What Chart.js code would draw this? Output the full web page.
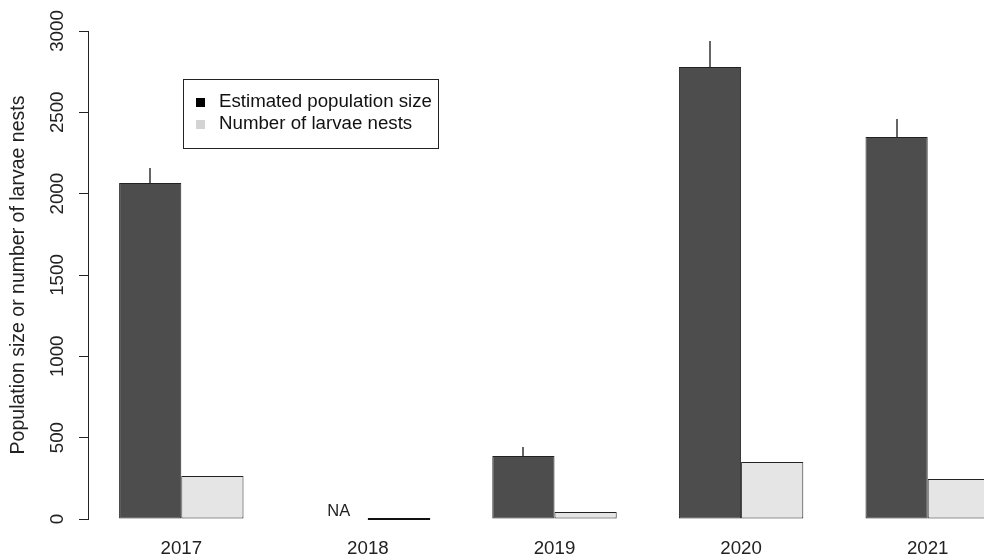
<!DOCTYPE html>
<html>
<head>
<meta charset="utf-8">
<script src="https://cdn.jsdelivr.net/npm/chart.js@4/dist/chart.umd.min.js"></script>
<style>
  html, body { margin: 0; padding: 0; background: #fff; overflow: hidden; }
  #wrap { width: 1021px; height: 558px; }
</style>
</head>
<body>
<div id="wrap"><canvas id="chart"></canvas></div>
<script>
// survey years and the two series (null = not estimated)
const years = ['2017', '2018', '2019', '2020', '2021'];
const popSize = [2066, null, 387, 2779, 2348];
const popUpper = [2158, null, 443, 2938, 2459];
const larvaeNests = [264, 0, 43, 350, 246];
const yTicks = [0, 500, 1000, 1500, 2000, 2500, 3000];

const FONT = 'Liberation Sans, Arial, sans-serif';
const INK = '#222';

// upper whiskers on the population bars
const whiskers = {
    id: 'whiskers',
    afterDatasetsDraw(chart) {
        const ctx = chart.ctx;
        const y = chart.scales.y;
        const meta = chart.getDatasetMeta(0);
        ctx.save();
        ctx.strokeStyle = '#333';
        ctx.lineWidth = 1.5;
        popUpper.forEach((u, i) => {
            if (u == null || popSize[i] == null) return;
            const x = Math.round(meta.data[i].x);
            ctx.beginPath();
            ctx.moveTo(x, y.getPixelForValue(popSize[i]));
            ctx.lineTo(x, y.getPixelForValue(u));
            ctx.stroke();
        });
        ctx.restore();
    }
};

// NA for missing bars, flat line for zero-height bars
const emptyBars = {
    id: 'emptyBars',
    afterDatasetsDraw(chart) {
        const ctx = chart.ctx;
        const y0 = chart.scales.y.getPixelForValue(0);
        ctx.save();
        chart.data.datasets.forEach((ds, di) => {
            const meta = chart.getDatasetMeta(di);
            ds.data.forEach((v, i) => {
                const el = meta.data[i];
                if (v === null) {
                    ctx.fillStyle = INK;
                    ctx.font = '16.5px ' + FONT;
                    ctx.textAlign = 'center';
                    ctx.textBaseline = 'middle';
                    ctx.fillText('NA', el.x + 2, y0 - 8);
                } else if (v === 0) {
                    ctx.strokeStyle = '#111';
                    ctx.lineWidth = 2;
                    ctx.beginPath();
                    ctx.moveTo(el.x - el.width / 2, y0);
                    ctx.lineTo(el.x + el.width / 2, y0);
                    ctx.stroke();
                }
            });
        });
        ctx.restore();
    }
};

// boxed legend inside the plot
const boxLegend = {
    id: 'boxLegend',
    afterDraw(chart, args, opts) {
        const ctx = chart.ctx;
        const b = opts.box;
        ctx.save();
        ctx.strokeStyle = INK;
        ctx.lineWidth = 1;
        ctx.strokeRect(b.x + 0.5, b.y + 0.5, b.w, b.h);
        ctx.font = opts.fontSize + 'px ' + FONT;
        ctx.textBaseline = 'middle';
        ctx.textAlign = 'left';
        chart.data.datasets.forEach((ds, i) => {
            const yy = opts.rows[i];
            ctx.fillStyle = opts.marks[i];
            ctx.fillRect(opts.markX - 4, yy - 4, 9, 9);
            ctx.fillStyle = '#111';
            ctx.fillText(ds.label, opts.textX, yy);
        });
        ctx.restore();
    }
};

new Chart(document.getElementById('chart'), {
    type: 'bar',
    data: {
        labels: years,
        datasets: [
            {
                label: 'Estimated population size',
                data: popSize,
                backgroundColor: '#4d4d4d',
                borderColor: INK,
                borderWidth: 1,
                borderSkipped: false
            },
            {
                label: 'Number of larvae nests',
                data: larvaeNests,
                backgroundColor: '#e5e5e5',
                borderColor: INK,
                borderWidth: 1,
                borderSkipped: false
            }
        ]
    },
    options: {
        responsive: true,
        maintainAspectRatio: false,
        animation: false,
        devicePixelRatio: 1,
        categoryPercentage: 2 / 3,
        barPercentage: 1,
        layout: { padding: { top: 31, left: 0, right: 0, bottom: 0 } },
        plugins: {
            legend: { display: false },
            tooltip: { enabled: false },
            boxLegend: {
                box: { x: 183, y: 79, w: 255, h: 69 },
                rows: [102, 124],
                marks: ['#000', '#d3d3d3'],
                markX: 200,
                textX: 219,
                fontSize: 18.7
            }
        },
        scales: {
            x: {
                grid: { display: false, drawTicks: false },
                border: { display: false },
                ticks: { color: INK, font: { family: FONT, size: 18.7 }, padding: 19 },
                afterFit(scale) { scale.height = 39; }
            },
            y: {
                min: 0,
                max: 3000,
                afterBuildTicks(scale) { scale.ticks = yTicks.map(v => ({ value: v })); },
                grid: { drawOnChartArea: false, drawTicks: true, tickLength: 9, color: INK },
                border: { display: true, color: INK },
                ticks: {
                    color: INK,
                    font: { family: FONT, size: 18.7 },
                    minRotation: 90,
                    maxRotation: 90,
                    crossAlign: 'center',
                    padding: 0,
                    callback: v => String(v)
                },
                title: {
                    display: true,
                    text: 'Population size or number of larvae nests',
                    color: INK,
                    font: { family: FONT, size: 19.5 },
                    padding: { top: 7, bottom: 0 }
                },
                afterFit(scale) { scale.width = 88; }
            }
        }
    },
    plugins: [whiskers, emptyBars, boxLegend]
});
</script>
</body>
</html>
